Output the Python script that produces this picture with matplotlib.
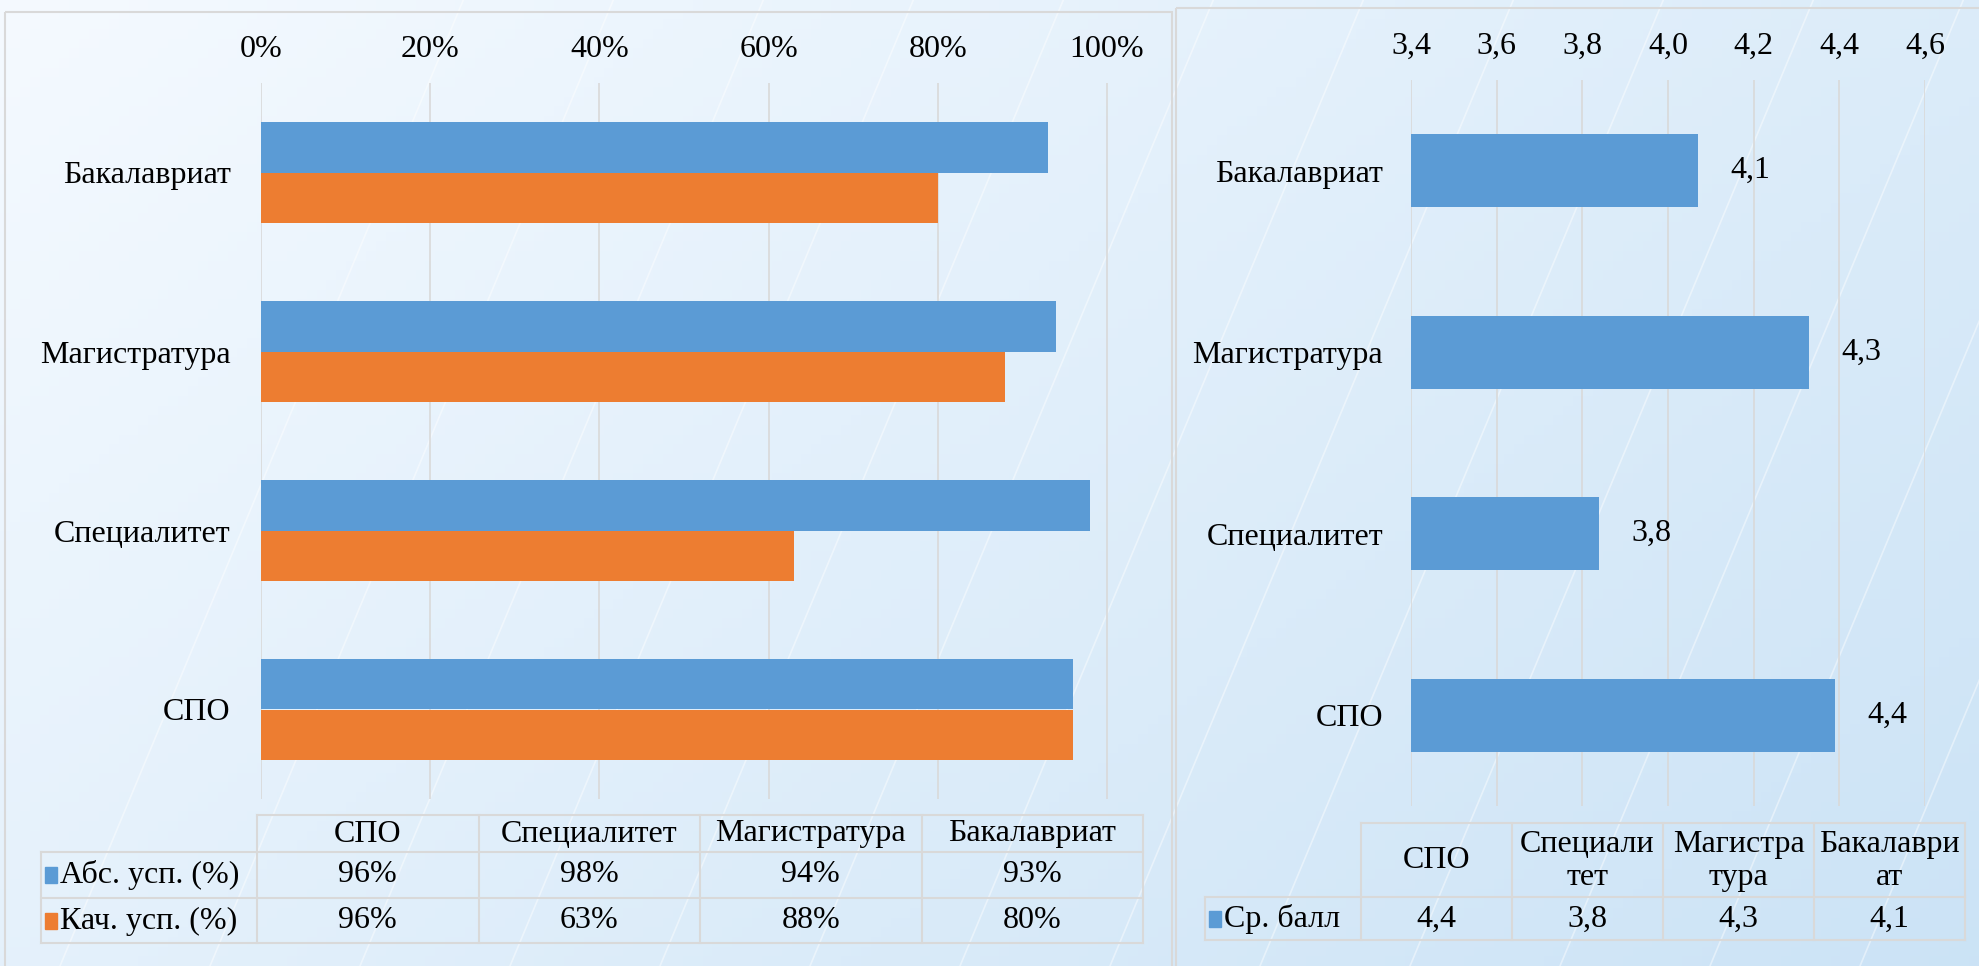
import numpy as np
import matplotlib
matplotlib.use("Agg")
import matplotlib.pyplot as plt
from matplotlib.patches import Rectangle

plt.rcParams['font.family'] = ['Liberation Serif', 'DejaVu Serif']

# data
categories = ['Бакалавриат', 'Магистратура', 'Специалитет', 'СПО']
abs_usp = [0.93, 0.94, 0.98, 0.96]
kach_usp = [0.80, 0.88, 0.63, 0.96]
sr_ball = [4.07, 4.33, 3.84, 4.39]

table_cols = ['СПО', 'Специалитет', 'Магистратура', 'Бакалавриат']
table_abs = ['96%', '98%', '94%', '93%']
table_kach = ['96%', '63%', '88%', '80%']
table_cols_wrapped = ['СПО', 'Специали\nтет', 'Магистра\nтура', 'Бакалаври\nат']
table_ball = ['4,4', '3,8', '4,3', '4,1']

pct_ticks = [0, 0.2, 0.4, 0.6, 0.8, 1.0]
ball_ticks = [3.4, 3.6, 3.8, 4.0, 4.2, 4.4, 4.6]

BLUE = '#5B9BD5'
ORANGE = '#ED7D31'
GRID = '#d9d9d9'
FS = 23

W, H = 1979, 966
fig = plt.figure(figsize=(W / 100, H / 100), dpi=100)


def fr(x0, y0, x1, y1):
    # pixel box (top-left origin) -> figure fraction rect
    return [x0 / W, 1 - y1 / H, (x1 - x0) / W, (y1 - y0) / H]


# background
bg = fig.add_axes([0, 0, 1, 1], zorder=-10)
gx, gy = np.meshgrid(np.linspace(0, 1, 200), np.linspace(0, 1, 100))
t = np.clip(0.55 * gx + 0.35 * gy, 0, 1)
c0 = np.array([0.96, 0.98, 1.0])
c1 = np.array([0.78, 0.88, 0.96])
img = c0 + (c1 - c0) * t[..., None]
bg.imshow(img, extent=[0, W, H, 0], aspect='auto')
for k in range(14):
    x = 60 + k * 150
    bg.plot([x, x + 420], [H, -40], color='white', lw=1.2, alpha=0.45)
bg.set_xlim(0, W)
bg.set_ylim(H, 0)
bg.axis('off')

# overlay for frames and tables
ov = fig.add_axes([0, 0, 1, 1], zorder=5)
ov.set_xlim(0, W)
ov.set_ylim(H, 0)
ov.axis('off')
ov.patch.set_alpha(0)
ov.add_patch(Rectangle((5, 12), 1167, 970, fill=False, ec=GRID, lw=1.5))
ov.add_patch(Rectangle((1176, 8), 820, 980, fill=False, ec=GRID, lw=1.5))

# left chart
ax = fig.add_axes(fr(261, 83, 1143, 799))
ax.patch.set_alpha(0)
y = np.arange(len(categories))
ax.barh(y - 0.14, abs_usp, height=0.28, color=BLUE, zorder=3)
ax.barh(y + 0.14, kach_usp, height=0.28, color=ORANGE, zorder=3)
ax.set_xlim(0, 1.0426)
ax.set_ylim(3.5, -0.5)
ax.set_xticks(pct_ticks)
ax.set_xticklabels([f'{int(v * 100)}%' for v in pct_ticks])
ax.xaxis.tick_top()
ax.set_yticks(y)
ax.set_yticklabels(categories)
ax.tick_params(axis='x', length=0, pad=14, labelsize=FS)
ax.tick_params(axis='y', length=0, pad=22, labelsize=FS)
ax.grid(axis='x', color=GRID, lw=1.2)
for s in ax.spines.values():
    s.set_visible(False)

# left table
xs = np.linspace(257, 1143, 5)
ov.plot([xs[0], xs[-1]], [815, 815], color=GRID, lw=1.5)
for yy in [852, 898, 943]:
    ov.plot([41, xs[-1]], [yy, yy], color=GRID, lw=1.5)
for xx in xs:
    ov.plot([xx, xx], [815, 943], color=GRID, lw=1.5)
ov.plot([41, 41], [852, 943], color=GRID, lw=1.5)
for i in range(4):
    cx = (xs[i] + xs[i + 1]) / 2
    ov.text(cx, 834, table_cols[i], ha='center', va='center', fontsize=FS)
    ov.text(cx, 875, table_abs[i], ha='center', va='center', fontsize=FS)
    ov.text(cx, 921, table_kach[i], ha='center', va='center', fontsize=FS)
for yy, col, lab in [(875, BLUE, 'Абс. усп. (%)'), (921, ORANGE, 'Кач. усп. (%)')]:
    ov.add_patch(Rectangle((45, yy - 8), 12, 16, color=col))
    ov.text(60, yy, lab, ha='left', va='center', fontsize=FS)

# right chart
ax2 = fig.add_axes(fr(1411, 80, 1925, 806))
ax2.patch.set_alpha(0)
ax2.barh(y, [v - 3.4 for v in sr_ball], left=3.4, height=0.4, color=BLUE, zorder=3)
ax2.set_xlim(3.4, 4.6)
ax2.set_ylim(3.5, -0.5)
ax2.set_xticks(ball_ticks)
ax2.set_xticklabels([f'{v:.1f}'.replace('.', ',') for v in ball_ticks])
ax2.xaxis.tick_top()
ax2.set_yticks(y)
ax2.set_yticklabels(categories)
ax2.tick_params(axis='x', length=0, pad=14, labelsize=FS)
ax2.tick_params(axis='y', length=0, pad=20, labelsize=FS)
ax2.grid(axis='x', color=GRID, lw=1.2)
for s in ax2.spines.values():
    s.set_visible(False)
for i, v in enumerate(sr_ball):
    ax2.annotate(f'{v:.1f}'.replace('.', ','), (v, i), xytext=(23, 0),
                 textcoords='offset points', ha='left', va='center', fontsize=FS)

# right table
xr = np.linspace(1361, 1965, 5)
ov.plot([xr[0], xr[-1]], [823, 823], color=GRID, lw=1.5)
for yy in [897, 940]:
    ov.plot([1205, xr[-1]], [yy, yy], color=GRID, lw=1.5)
for xx in xr:
    ov.plot([xx, xx], [823, 940], color=GRID, lw=1.5)
ov.plot([1205, 1205], [897, 940], color=GRID, lw=1.5)
for i in range(4):
    cx = (xr[i] + xr[i + 1]) / 2
    ov.text(cx, 861, table_cols_wrapped[i], ha='center', va='center',
            fontsize=FS, linespacing=1.15)
    ov.text(cx, 919, table_ball[i], ha='center', va='center', fontsize=FS)
ov.add_patch(Rectangle((1209, 911), 12, 16, color=BLUE))
ov.text(1224, 919, 'Ср. балл', ha='left', va='center', fontsize=FS)

fig.savefig('out.png', dpi=100)
